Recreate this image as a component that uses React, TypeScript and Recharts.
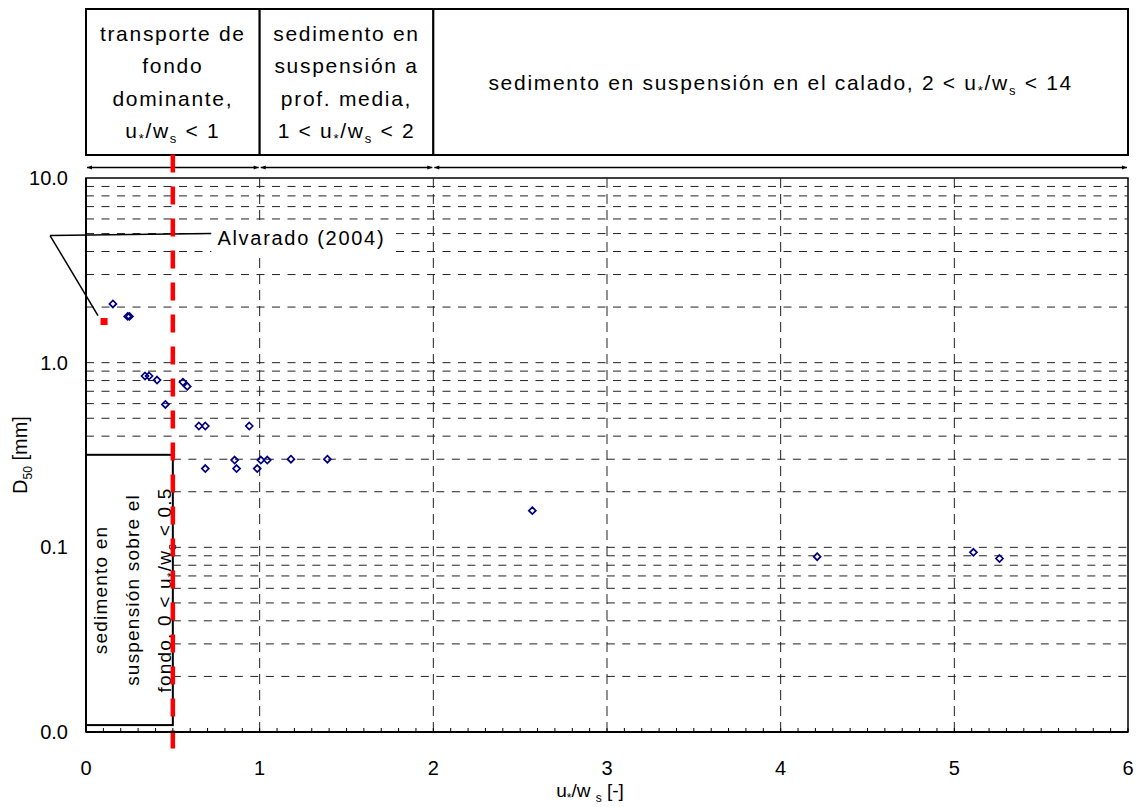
import React from 'react';
import {
  ScatterChart, Scatter, XAxis, YAxis,
  ReferenceLine, ReferenceArea, ReferenceDot,
} from 'recharts';

// measured points: u*/ws ratio and D50 [mm]
const ratioValues = [
  0.155, 0.24, 0.25, 0.34, 0.363, 0.409, 0.457, 0.558, 0.583, 0.65, 0.687, 0.94,
  0.687, 0.856, 0.867, 0.986, 1.007, 1.044, 1.18, 1.39, 2.57, 4.21, 5.11, 5.26,
];
const d50Values = [
  2.08, 1.78, 1.78, 0.847, 0.847, 0.805, 0.594, 0.785, 0.744, 0.454, 0.454, 0.454,
  0.267, 0.297, 0.267, 0.267, 0.297, 0.297, 0.3, 0.3, 0.158, 0.089, 0.094, 0.087,
];

// Alvarado (2004)
const alvaradoRatio = [0.104];
const alvaradoD50 = [1.67];

const xTickLabels = ['0', '1', '2', '3', '4', '5', '6'];
const yTicks = [0.01, 0.1, 1, 10];
const yGridValues = [
  0.02, 0.03, 0.04, 0.05, 0.06, 0.07, 0.08, 0.09, 0.1,
  0.2, 0.3, 0.4, 0.5, 0.6, 0.7, 0.8, 0.9, 1,
  2, 3, 4, 5, 6, 7, 8, 9,
];
const xGridValues = [1, 2, 3, 4, 5];

// transport regimes shown above the plot
const regimeFrom = [0, 1, 2];
const regimeTo = [1, 2, 6];
const regimeText = [
  ['transporte de', 'fondo', 'dominante,', 'u_*/w_s < 1'],
  ['sedimento en', 'suspensión a', 'prof. media,', '1 < u_*/w_s < 2'],
  ['sedimento en suspensión en el calado, 2 < u_*/w_s < 14'],
];
// near-bed text box, in data units
const nearBedX = [0, 0.5];
const nearBedY = [0.0109, 0.317];
const nearBedText = ['sedimento en', 'suspensión sobre el', 'fondo, 0 < u_*/w_s < 0.5'];

const FONT = '"Liberation Sans", Arial, sans-serif';
const W = 1137;
const H = 807;
const HEADER_TOP = 9;
const HEADER_BOTTOM = 155;
const ARROW_Y = 167.5;

// '_' marks the next character as a subscript
function rich(src: string, size: number) {
  const segs: { t: string; sub: boolean }[] = [];
  for (let i = 0; i < src.length; i++) {
    if (src[i] === '_' && i + 1 < src.length) {
      segs.push({ t: src[i + 1], sub: true });
      i++;
    } else {
      const last = segs[segs.length - 1];
      if (last && !last.sub) last.t += src[i];
      else segs.push({ t: src[i], sub: false });
    }
  }
  const shift = Math.round(size * 0.25);
  let cur = 0;
  return segs.map((s, k) => {
    const target = s.sub ? shift : 0;
    const dy = target - cur;
    cur = target;
    return (
      <tspan key={k} dy={dy} fontSize={s.sub ? Math.round(size * 0.62) : size}>
        {s.t}
      </tspan>
    );
  });
}

const HeaderBox = (props: any) => {
  const { x, width, lines } = props;
  const size = 21;
  const mid = (HEADER_TOP + HEADER_BOTTOM) / 2;
  const n = lines.length;
  const a = 5;
  const x1 = x + 1;
  const x2 = x + width - 1;
  return (
    <g>
      <rect x={x} y={HEADER_TOP} width={width} height={HEADER_BOTTOM - HEADER_TOP}
        fill="#fff" stroke="#000" strokeWidth={2} />
      {lines.map((ln: string, i: number) => (
        <text key={i} x={x + width / 2} y={mid + (i - (n - 1) / 2) * 32.5 + 7.5}
          textAnchor="middle" fontFamily={FONT} fontSize={size} letterSpacing={1.7} fill="#000">
          {rich(ln, size)}
        </text>
      ))}
      <line x1={x1} y1={ARROW_Y} x2={x2} y2={ARROW_Y} stroke="#000" strokeWidth={1.5} />
      <polygon points={`${x1},${ARROW_Y} ${x1 + a},${ARROW_Y - 2} ${x1 + a},${ARROW_Y + 2}`} fill="#000" />
      <polygon points={`${x2},${ARROW_Y} ${x2 - a},${ARROW_Y - 2} ${x2 - a},${ARROW_Y + 2}`} fill="#000" />
    </g>
  );
};

const NearBedBox = (props: any) => {
  const { x, y, width, height } = props;
  const size = 19;
  const cy = y + height / 2;
  return (
    <g>
      <rect x={x} y={y} width={width} height={height} fill="#fff" stroke="#000" strokeWidth={2} />
      <g transform={`translate(${x}, ${cy}) rotate(-90)`}>
        {nearBedText.map((ln, i) => (
          <text key={i} x={0} y={21 + i * 32} textAnchor="middle" fontFamily={FONT}
            fontSize={size} letterSpacing={1.2} fill="#000">
            {rich(ln, size)}
          </text>
        ))}
      </g>
    </g>
  );
};

const AlvaradoLabel = (props: any) => {
  const { cx, cy } = props;
  return (
    <g>
      <rect x={cx - 90} y={cy - 15} width={181} height={31} fill="#fff" />
      <text x={cx} y={cy + 7} textAnchor="middle" fontFamily={FONT} fontSize={20}
        letterSpacing={1.7} fill="#000">
        Alvarado (2004)
      </text>
    </g>
  );
};

const Diamond = (p: any) => {
  const { cx, cy } = p;
  const r = 3.5;
  return (
    <polygon points={`${cx},${cy - r} ${cx + r},${cy} ${cx},${cy + r} ${cx - r},${cy}`}
      fill="none" stroke="#000080" strokeWidth={1.7} />
  );
};

const RedSquare = (p: any) => {
  const { cx, cy } = p;
  return <rect x={cx - 3.5} y={cy - 3.5} width={7} height={7} fill="#ff0000" />;
};

const YTitle = (props: any) => {
  const vb = props.viewBox || { x: 0, y: 178, width: 86, height: 554 };
  const cy = vb.y + vb.height / 2;
  const bx = vb.x + 27;
  return (
    <text transform={`rotate(-90, ${bx}, ${cy})`} x={bx} y={cy} textAnchor="middle"
      fontFamily={FONT} fontSize={20} fill="#000">
      {rich('D_5_0 [mm]', 20)}
    </text>
  );
};

const XTitle = (props: any) => {
  const vb = props.viewBox || { x: 86, y: 732, width: 1042, height: 75 };
  return (
    <text x={vb.x + vb.width / 2 - 17} y={vb.y + 65} textAnchor="middle"
      fontFamily={FONT} fontSize={19} fill="#000">
      {rich('u_*/w _s [-]', 19)}
    </text>
  );
};

const xTicks: number[] = [];
for (let i = 0; i <= 60; i++) xTicks.push(i / 10);
const fmtX = (v: number) => {
  const r = Math.round(v);
  return Math.abs(v - r) < 1e-6 ? xTickLabels[r] : '';
};

export default function App() {
  const points = ratioValues.map((x, i) => ({ x, y: d50Values[i] }));
  const alvarado = alvaradoRatio.map((x, i) => ({ x, y: alvaradoD50[i] }));
  const tickStyle = { fontSize: 20, fill: '#000', fontFamily: FONT };

  return (
    <div style={{ position: 'fixed', left: 0, top: 0, background: '#fff' }}>
      <ScatterChart width={W} height={H} margin={{ top: 178, right: 9, bottom: 0, left: 0 }}>
        <XAxis type="number" dataKey="x" domain={[0, 6]} ticks={xTicks} interval={0}
          tickFormatter={fmtX} tickSize={-4} tickMargin={33} height={75} allowDataOverflow
          axisLine={{ stroke: '#000', strokeWidth: 2 }} tickLine={{ stroke: '#000' }}
          tick={tickStyle} label={<XTitle />} />
        <YAxis type="number" dataKey="y" scale="log" domain={[0.01, 10]} ticks={yTicks}
          tickFormatter={(v: number) => v.toFixed(1)} width={86} tickSize={0} tickMargin={18}
          allowDataOverflow axisLine={{ stroke: '#000', strokeWidth: 2 }} tickLine={false}
          tick={tickStyle} label={<YTitle />} />
        {yGridValues.map((v) => (
          <ReferenceLine key={`h${v}`}
            segment={[{ x: v < nearBedY[1] ? nearBedX[1] : 0, y: v }, { x: 6, y: v }]}
            stroke="#222" strokeDasharray="8 7.5" />
        ))}
        {xGridValues.map((v) => (
          <ReferenceLine key={`v${v}`} x={v} stroke="#222" strokeDasharray="10 6" />
        ))}
        <ReferenceArea x1={0} x2={6} y1={0.01} y2={10} fill="none" fillOpacity={0}
          stroke="#000" strokeWidth={1.5} />
        {regimeFrom.map((f, i) => (
          <ReferenceArea key={i} x1={f} x2={regimeTo[i]}
            shape={(p: any) => <HeaderBox {...p} lines={regimeText[i]} />} />
        ))}
        <ReferenceArea x1={nearBedX[0]} x2={nearBedX[1]} y1={nearBedY[0]} y2={nearBedY[1]}
          shape={(p: any) => <NearBedBox {...p} />} />
        <ReferenceLine segment={[{ x: -0.207, y: 4.88 }, { x: 0.72, y: 5.0 }]} ifOverflow="visible"
          stroke="#000" strokeWidth={1.5} />
        <ReferenceLine segment={[{ x: -0.207, y: 4.88 }, { x: 0.069, y: 1.8 }]} ifOverflow="visible"
          stroke="#000" strokeWidth={1.5} />
        <ReferenceDot x={1.24} y={4.76} shape={(p: any) => <AlvaradoLabel {...p} />} />
        <Scatter data={points} shape={Diamond} isAnimationActive={false} />
        <Scatter data={alvarado} shape={RedSquare} isAnimationActive={false} />
        <ReferenceLine segment={[{ x: 0.5, y: 13.4 }, { x: 0.5, y: 0.0072 }]} ifOverflow="visible"
          stroke="#ff0000" strokeWidth={4.5} strokeDasharray="18 14" />
      </ScatterChart>
    </div>
  );
}
